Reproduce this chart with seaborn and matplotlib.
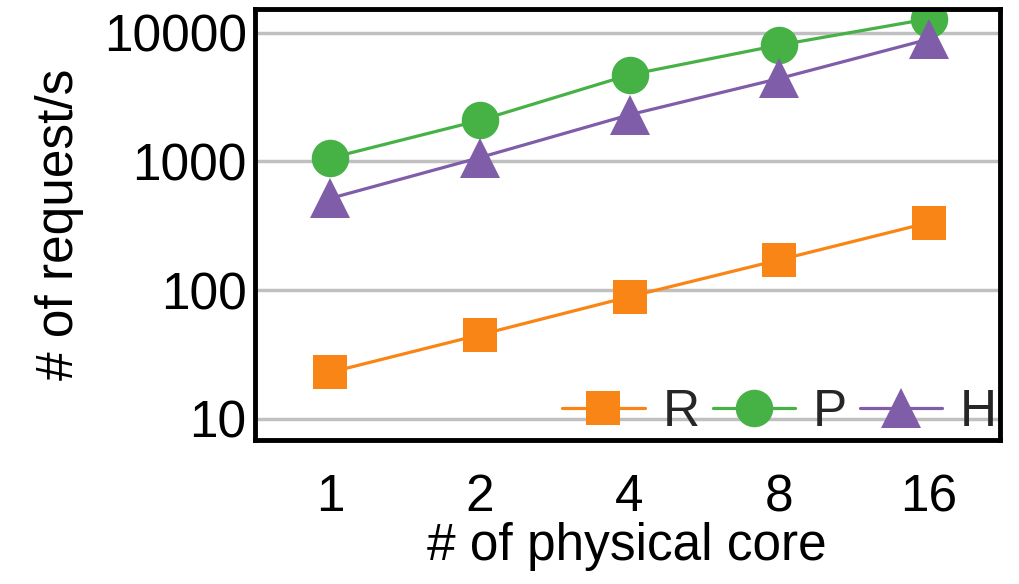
import matplotlib
matplotlib.use("Agg")
import matplotlib.pyplot as plt
import seaborn as sns
import pandas as pd

# data
cores = ["1", "2", "4", "8", "16"]
r_vals = [23, 45, 89, 172, 335]
p_vals = [1060, 2080, 4700, 8000, 12800]
h_vals = [515, 1070, 2300, 4400, 8900]

series = {"R": r_vals, "P": p_vals, "H": h_vals}
colors = {"R": "#F98516", "P": "#46B145", "H": "#805DA8"}
markers = {"R": "s", "P": "o", "H": "^"}
msize = {"R": 24, "P": 27, "H": 29}

rows = []
for name, vals in series.items():
    for i, (c, v) in enumerate(zip(cores, vals)):
        rows.append({"pos": i, "core": c, "rps": v, "series": name})
df = pd.DataFrame(rows)

sns.set_theme(style="white")
plt.rcParams["font.family"] = ["Liberation Sans", "DejaVu Sans"]

fs = 37

fig, ax = plt.subplots(figsize=(10.2, 5.84), dpi=100)
fig.subplots_adjust(left=0.25, right=0.98, top=0.985, bottom=0.247)

for name in series:
    sub = df[df["series"] == name]
    sns.lineplot(data=sub, x="pos", y="rps", ax=ax, color=colors[name],
                 marker=markers[name], markersize=msize[name], markeredgewidth=0,
                 linewidth=2.3, label=name)

ax.set_yscale("log")
ax.set_ylim(6.9, 15300)
ax.set_xlim(-0.5, 4.47)
ax.set_yticks([10, 100, 1000, 10000])
ax.set_yticklabels(["10", "100", "1000", "10000"])
ax.minorticks_off()
ax.set_xticks(range(len(cores)))
ax.set_xticklabels(cores)
ax.tick_params(axis="both", length=0, labelsize=fs, colors="black")
ax.tick_params(axis="x", pad=24)
ax.tick_params(axis="y", pad=6)
ax.grid(axis="y", color="#c0c0c0", linewidth=2.5)
ax.set_axisbelow(True)
for s in ax.spines.values():
    s.set_color("black")
    s.set_linewidth(3.5)

ax.set_xlabel("# of physical core", fontsize=fs, color="black", labelpad=0)
ax.set_ylabel("# of request/s", fontsize=fs, color="black", labelpad=14)

ax.legend(loc="lower right", ncol=3, frameon=False, fontsize=fs,
          handlelength=1.6, handletextpad=0.35, columnspacing=0.25,
          borderaxespad=0.0, borderpad=0.05)

fig.savefig("out.png", dpi=100)
